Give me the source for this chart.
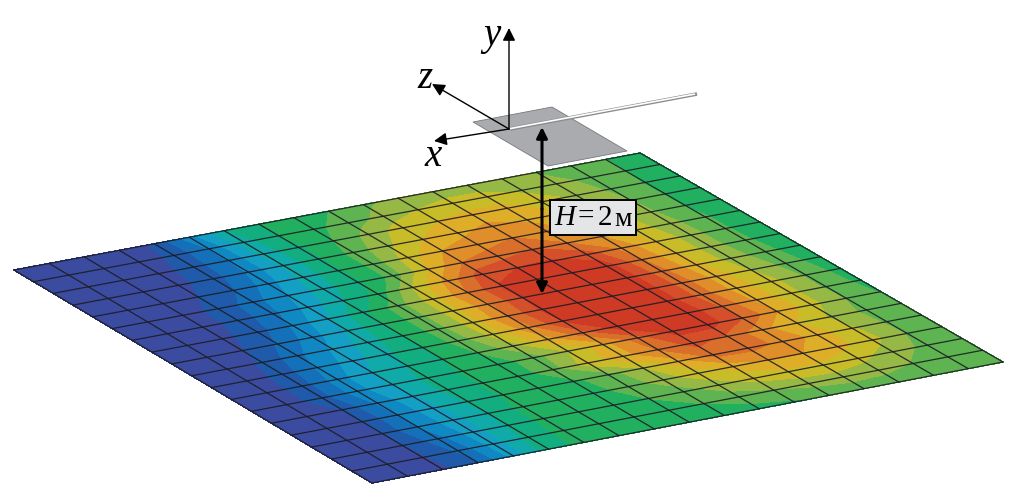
import numpy as np, pandas as pd, matplotlib
matplotlib.use("Agg")
import matplotlib.pyplot as plt, seaborn as sns
from matplotlib.colors import ListedColormap, BoundaryNorm
from matplotlib.patches import Polygon

sns.set_theme(style="white")
plt.rcParams['font.family'] = ['Liberation Serif', 'DejaVu Sans']

band_colors = ["#3B4BA0","#1F5BAA","#1470B8","#1088C4","#14A0C4","#10AAA8","#12AE80","#20B060",
               "#5DB450","#96B845","#C8BC28","#DFAE28","#DF8E2A","#D96F2A","#D5502A","#CE3A24"]
row00 = [0,0,0,0,0.6,3,5.5,6.5,7,7.5,8.3,8.8,9,9,8.8,8.4,8,7.5,7.2]
row01 = [0,0,0,0,0.7,2.5,5,6.5,7.2,8,8.8,9.5,9.8,9.8,9.3,8.8,8.2,7.5,7]
row02 = [0,0,0,0.1,0.9,2.5,4.8,6.3,7.5,8.8,10,10.5,10.8,10.8,10,9.2,8.3,7.4,6.8]
row03 = [0,0,0,0.2,1,2.6,4.6,6.3,7.8,9.3,10.5,11.2,11.8,11.3,10.5,9.5,8.5,7.4,6.6]
row04 = [0,0,0,.5,1.4,3,4.8,6.3,7.8,10,11.5,12,12.5,12,11,9.8,8.6,7.4,6.5]
row05 = [0,0,0,.8,2,3.5,5,6.3,7.8,10.5,12.5,13,13.5,12.5,11.5,10,8.8,7.6,6.5]
row06 = [0,0,.1,.8,2.2,3.8,5.4,6.8,9.5,11.8,14,14.5,14.6,14,12.2,10.4,8.9,7.6,6.5]
row07 = [0,0,.2,1,2.6,4.4,6.2,8,10,12.5,14.6,15,15,15,12.5,10.5,8.9,7.7,6.5]
row08 = [0,0,.4,1.6,3,4.6,6.4,8,10,12.2,14.5,15,15.2,15,12.8,10.7,9,7.9,6.6]
row09 = [0,0,.6,2.2,3.6,5,6.4,8,10,12.5,14.6,15,15.3,15,13,11,9.4,8.1,6.8]
row10 = [0,0,.8,2.6,4,5.3,6.4,7.8,9.8,12,14.5,15,15.3,15,13,11,9.8,8.3,7]
row11 = [0,0,.9,3,4.5,5.5,6.5,7.5,9,11,13,15,15.2,15.2,13.3,11.2,9.8,8.3,7.2]
row12 = [0,0,1,3,4.5,5.8,6.6,7,8,9.5,11,13,14.8,15,13.5,11.5,9.8,8.4,7.4]
row13 = [0,0,.5,2.6,4.3,5.7,6.6,7,8,10,11,12.5,13.8,13.2,11.8,10.5,9.3,8.2,7.5]
row14 = [0,0,.5,2.4,4.2,5.6,6.6,7,7.3,8,9.4,11,12.8,12.8,12.3,11,9.6,8.3,7.5]
row15 = [0,0,.5,2.5,4,5.5,6.8,7,7.2,7.8,9,10,10.8,11.5,11.5,10.8,9.8,8.4,7.5]
row16 = [0,0,.4,2,4,5.6,6.8,7,7.1,7.5,8,9,9.8,10.2,10.2,9.8,9,8.2,7.5]
row17 = [0,0,.3,1.6,3.9,5.8,6.8,7,7,7.2,7.5,8,8.4,8.8,9,8.8,8.4,8,7.6]
row18 = [0,0,.2,1.3,3.8,6,6.8,7,7,7,7,7.1,7.3,7.6,7.8,7.9,8,7.9,7.7]
field = np.array([row00,row01,row02,row03,row04,row05,row06,row07,row08,row09,
                  row10,row11,row12,row13,row14,row15,row16,row17,row18], float)

# picture corners of the surface (left, top, right, bottom), used as a perspective projection
corner_x = [14, 640, 1003, 372]
corner_y = [270, 153, 362, 483]
src = [(0,0),(1,0),(1,1),(0,1)]
A, b = [], []
for (s,t),x,y in zip(src, corner_x, corner_y):
    A.append([s,t,1,0,0,0,-s*x,-t*x]); b.append(x)
    A.append([0,0,0,s,t,1,-s*y,-t*y]); b.append(y)
h = np.linalg.solve(np.array(A,float), np.array(b,float))
def project(s, t):
    w = h[6]*s + h[7]*t + 1
    return (h[0]*s + h[1]*t + h[2])/w, (h[3]*s + h[4]*t + h[5])/w

n = field.shape[0]
S, T = np.meshgrid(np.linspace(0,1,n), np.linspace(0,1,n))
X, Y = project(S, T)

fig = plt.figure(figsize=(10.17,5.0), dpi=100)
ax = fig.add_axes([0,0,1,1])
ax.set_xlim(0,1017); ax.set_ylim(500,0); ax.axis('off')

levels = np.arange(-0.5, 16.5, 1)
cmap = ListedColormap(sns.color_palette(band_colors))
cs = ax.contourf(X, Y, field, levels=levels, cmap=cmap, norm=BoundaryNorm(levels, cmap.N), zorder=1)
cs.set_edgecolor('face'); cs.set_linewidth(0.4)

frames = []
for k in range(n):
    frames.append(pd.DataFrame({"x":X[k,:],"y":Y[k,:],"line":f"r{k}"}))
    frames.append(pd.DataFrame({"x":X[:,k],"y":Y[:,k],"line":f"c{k}"}))
grid = pd.concat(frames, ignore_index=True)
sns.lineplot(data=grid, x="x", y="y", units="line", estimator=None, sort=False,
             color="#1c1c24", linewidth=0.9, alpha=0.9, ax=ax, zorder=2, legend=False)
ax.set_xlim(0,1017); ax.set_ylim(500,0); ax.axis('off')

# plate and feed line
plate_x = [473,552,627,548]; plate_y = [122,107,151,166]
ax.add_patch(Polygon(np.c_[plate_x,plate_y], closed=True, fc="#a9abae", ec="#77797c", lw=0.6, zorder=3))
ax.plot([510,697],[129,94], color="#8c8c8c", lw=2.6, zorder=4, solid_capstyle='butt')
ax.plot([510,695],[128.6,94], color="white", lw=1.2, zorder=5, solid_capstyle='butt')

def arrow(p0, p1, lw, ms, style="-|>"):
    ax.annotate("", xy=p1, xytext=p0, zorder=6,
                arrowprops=dict(arrowstyle=style, color="black", lw=lw, mutation_scale=ms,
                                shrinkA=0, shrinkB=0))
arrow((509,129),(509,28),1.0,19)
arrow((509,129),(432,84),1.0,19)
arrow((509,129),(434,141),1.0,19)
arrow((542,209),(542,127),2.2,16)
arrow((542,209),(542,294),2.2,16)

serif = dict(family='Liberation Serif', color='black', zorder=8, va='center', ha='center')
ax.text(492,36,"y",fontsize=28,style='italic',**serif)
ax.text(425,79,"z",fontsize=28,style='italic',**serif)
ax.text(433,156,"x",fontsize=28,style='italic',**serif)

ax.add_patch(plt.Rectangle((550,200),86,35,fc="#e4e5e7",ec="black",lw=1.4,zorder=7))
ax.text(565,218,"H",fontsize=21,style='italic',**serif)
ax.text(586,217,"=",fontsize=21,**serif)
ax.text(605,218,"2",fontsize=21,**serif)
ax.text(623,220,"м",fontsize=20,**serif)

fig.savefig("out.png", dpi=100, facecolor="white")
